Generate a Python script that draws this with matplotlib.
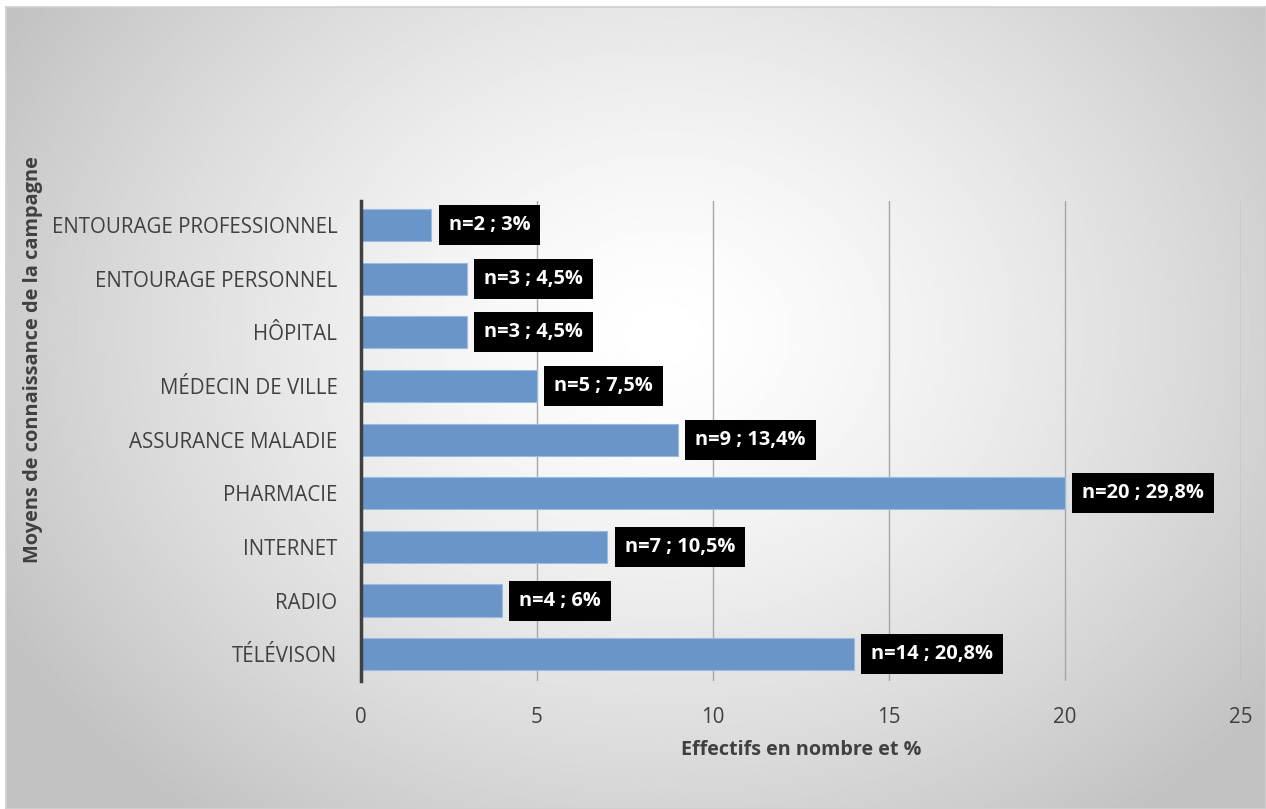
import numpy as np
import matplotlib.pyplot as plt

plt.rcParams['font.family'] = ['Open Sans', 'DejaVu Sans']

# données (du bas vers le haut)
categories = ['TÉLÉVISON', 'RADIO', 'INTERNET', 'PHARMACIE', 'ASSURANCE MALADIE',
              'MÉDECIN DE VILLE', 'HÔPITAL', 'ENTOURAGE PERSONNEL', 'ENTOURAGE PROFESSIONNEL']
effectifs = [14, 4, 7, 20, 9, 5, 3, 3, 2]
pourcents = ['20,8', '6', '10,5', '29,8', '13,4', '7,5', '4,5', '4,5', '3']

W, H = 1266, 809
fig = plt.figure(figsize=(W / 100, H / 100), dpi=100)

# fond en dégradé radial
bg = fig.add_axes([6 / W, 0, 1 - 6 / W, 1 - 7 / H])
yy, xx = np.mgrid[0:H, 0:W]
r = np.hypot((xx - 660) / 760, (yy - 330) / 620)
shade = 1 - 0.24 * np.clip(r, 0, 1) ** 1.4
bg.imshow(shade, cmap='gray', vmin=0, vmax=1, aspect='auto', interpolation='bilinear')
bg.set_xticks([])
bg.set_yticks([])
for s in bg.spines.values():
    s.set_color('#d0d0d0')
    s.set_linewidth(1.2)

ax = fig.add_axes([361 / W, 1 - 681 / H, 880 / W, 480 / H])
ax.patch.set_alpha(0)
y = np.arange(len(categories))
ax.barh(y, effectifs, height=0.6, color='#6a95c8', edgecolor='#9bbbe0', linewidth=0.8, zorder=3)

for yi, n, p in zip(y, effectifs, pourcents):
    ax.annotate(f'n={n} ; {p}%', xy=(n, yi), xytext=(12.5, 0), textcoords='offset points',
                ha='left', va='center', color='white', fontsize=14.4, fontweight='bold',
                bbox=dict(boxstyle='square,pad=0.5', fc='black', ec='none'), zorder=4)

ax.set_xlim(0, 25)
ax.set_ylim(-0.5, 8.45)
ax.set_xticks([0, 5, 10, 15, 20, 25])
ax.set_yticks(y)
ax.set_yticklabels(categories)
ax.tick_params(axis='both', length=0, labelsize=14.8, labelcolor='#404040')
ax.tick_params(axis='x', pad=19)
ax.tick_params(axis='y', pad=17)
ax.grid(axis='x', color='#a6a6a6', linewidth=1, zorder=1)
for s in ['top', 'right', 'bottom']:
    ax.spines[s].set_visible(False)
ax.spines['left'].set_color('#404040')
ax.spines['left'].set_linewidth(2.5)
ax.spines['left'].set_zorder(5)

fig.text(801 / W, 1 - 750 / H, 'Effectifs en nombre et %', ha='center', va='center',
         fontsize=14.2, fontweight='bold', color='#404040')
fig.text(33 / W, 1 - 360 / H, 'Moyens de connaissance de la campagne', ha='center', va='center',
         rotation=90, fontsize=14.4, fontweight='bold', color='#404040')

fig.savefig('out.png', dpi=100)
